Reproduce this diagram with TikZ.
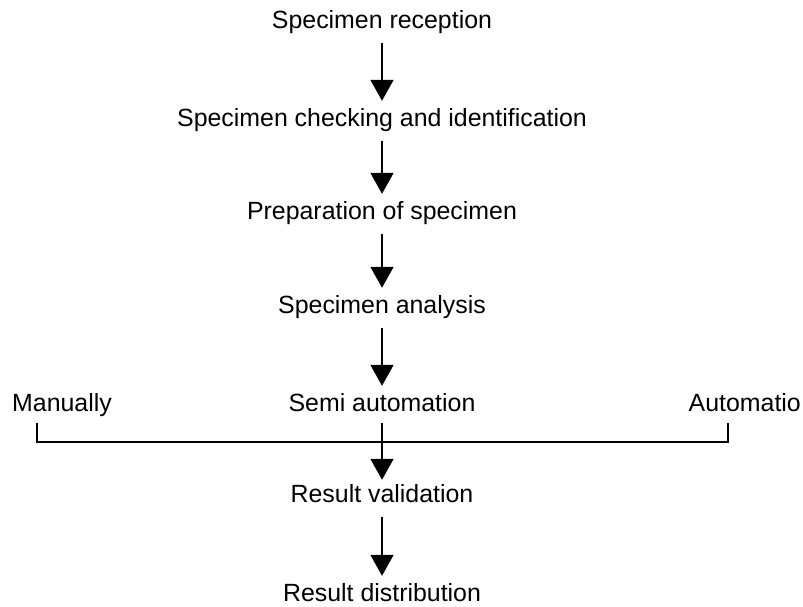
\documentclass[tikz,border=0pt]{standalone}
\usepackage{fontspec}
\setmainfont{Liberation Sans}
\usetikzlibrary{arrows.meta}

\begin{document}
\begin{tikzpicture}[x=1pt, y=1pt, >={Triangle[length=21pt,width=23pt]},
    lbl/.style={inner sep=0pt, anchor=base, text height=18pt, text depth=5pt,
      font=\fontsize{24.9}{29}\selectfont},
    flow/.style={->, line width=1.8pt, shorten <=9pt, shorten >=8pt}]
    \useasboundingbox (0,0) rectangle (803,607);

    \node[lbl] (rec)  at (382,578) {Specimen reception};
    \node[lbl] (chk)  at (382,480) {Specimen checking and identification};
    \node[lbl] (prep) at (382,387) {Preparation of specimen};
    \node[lbl] (ana)  at (382,293) {Specimen analysis};
    \node[lbl] (semi) at (382,195) {Semi automation};
    \node[lbl, anchor=base west] (man) at (12,195) {Manually};
    \node[lbl, anchor=base east] (aut) at (801,195) {Automatio};
    \node[lbl] (val)  at (382,104) {Result validation};
    \node[lbl] (dist) at (382,5) {Result distribution};

    \draw[flow] (rec) -- (chk);
    \draw[flow] (chk) -- (prep);
    \draw[flow] (prep) -- (ana);
    \draw[flow] (ana) -- (semi);
    \draw[flow, shorten <=6pt, shorten >=5pt] (semi) -- (val);
    \draw[flow] (val) -- (dist);

    % bracket under the three ways
    \coordinate (brl) at (37,165);
    \coordinate (brr) at (728,165);
    \draw[line width=1.6pt] (brl) ++(0,19) -- (brl) -- (brr) -- ++(0,19);
  \end{tikzpicture}
\end{document}
